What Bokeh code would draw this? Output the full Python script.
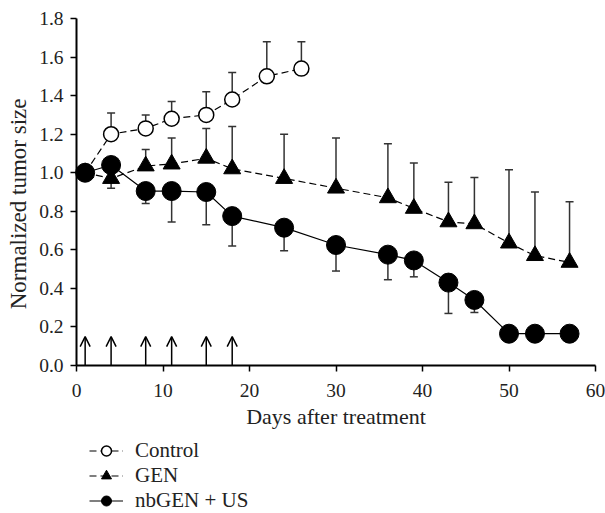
from bokeh.plotting import figure
from bokeh.models import (Range1d, ColumnDataSource, Whisker, TeeHead, Arrow, OpenHead,
                          Legend, LegendItem, FixedTicker, NumeralTickFormatter, Title)
from bokeh.embed import file_html
from bokeh.resources import INLINE

# ---- data ----
days_ctrl = [1, 4, 8, 11, 15, 18, 22, 26]
ctrl = [1.0, 1.20, 1.23, 1.28, 1.30, 1.38, 1.50, 1.54]
ctrl_hi = [1.0, 1.31, 1.30, 1.37, 1.42, 1.52, 1.68, 1.68]

days_gen = [1, 4, 8, 11, 15, 18, 24, 30, 36, 39, 43, 46, 50, 53, 57]
gen = [1.0, 0.97, 1.035, 1.045, 1.075, 1.02, 0.97, 0.92, 0.87, 0.815, 0.745, 0.735, 0.635, 0.57, 0.535]
gen_hi = [1.0, 0.97, 1.12, 1.18, 1.23, 1.24, 1.20, 1.18, 1.15, 1.05, 0.95, 0.975, 1.015, 0.90, 0.85]
gen_lo = [1.0, 0.92, 1.035, 1.045, 1.075, 1.02, 0.97, 0.92, 0.87, 0.815, 0.745, 0.735, 0.635, 0.57, 0.535]

days_nb = [1, 4, 8, 11, 15, 18, 24, 30, 36, 39, 43, 46, 50, 53, 57]
nb = [1.0, 1.04, 0.905, 0.905, 0.90, 0.775, 0.715, 0.625, 0.575, 0.545, 0.43, 0.34, 0.165, 0.165, 0.165]
nb_lo = [1.0, 1.04, 0.84, 0.745, 0.73, 0.62, 0.595, 0.49, 0.445, 0.46, 0.27, 0.275, 0.13, 0.14, 0.14]

treat_days = [1, 4, 8, 11, 15, 18]
arrow_top = 0.15

x_ticks = [0, 10, 20, 30, 40, 50, 60]
y_ticks = [0.0, 0.2, 0.4, 0.6, 0.8, 1.0, 1.2, 1.4, 1.6, 1.8]

FONT = "Liberation Serif"

# The frame is enlarged beyond the data area so that tick labels and the
# legend (drawn inside the frame) are not clipped; axes sit at x=0 / y=0.
PX_PER_DAY = 519 / 60
PX_PER_UNIT = 347 / 1.8
FRAME_LEFT = 34
x_lo = -(75 - FRAME_LEFT) / PX_PER_DAY
x_hi = 60 + 11 / PX_PER_DAY
y_lo = -148 / PX_PER_UNIT
y_hi = 1.8 + 18 / PX_PER_UNIT

p = figure(output_backend="svg", toolbar_location=None,
           frame_width=605 - FRAME_LEFT, frame_height=513,
           min_border_left=FRAME_LEFT, min_border_top=0, min_border_right=0, min_border_bottom=0,
           x_range=Range1d(x_lo, x_hi), y_range=Range1d(y_lo, y_hi))
p.outline_line_color = None
p.xgrid.visible = False
p.ygrid.visible = False
p.background_fill_color = "white"
p.border_fill_color = "white"

for ax in (p.xaxis[0], p.yaxis[0]):
    ax.axis_line_width = 2
    ax.axis_line_color = "black"
    ax.major_tick_line_width = 1.5
    ax.major_tick_line_color = "black"
    ax.major_tick_out = 6
    ax.major_tick_in = 0
    ax.minor_tick_line_color = None
    ax.major_label_text_font = FONT
    ax.major_label_text_font_size = "19.5px"
    ax.major_label_text_color = "#222222"
    ax.axis_label_text_font = FONT
    ax.axis_label_text_font_size = "22px"
    ax.axis_label_text_font_style = "normal"
    ax.axis_label_text_color = "#222222"

p.xaxis.fixed_location = 0
p.yaxis.fixed_location = 0
p.xaxis.bounds = (0, 60)
p.yaxis.bounds = (0, 1.8)
p.xaxis.ticker = FixedTicker(ticks=x_ticks)
p.yaxis.ticker = FixedTicker(ticks=y_ticks)
p.yaxis.formatter = NumeralTickFormatter(format="0.0")
p.xaxis.axis_label = "Days after treatment"
p.xaxis.major_label_standoff = 12
p.xaxis.axis_label_standoff = 4
p.yaxis.major_label_standoff = 7

ylab = Title(text="Normalized tumor size", align="right", offset=98, standoff=8,
             text_font=FONT, text_font_size="23px", text_font_style="normal",
             text_color="#222222", vertical_align="middle")
p.add_layout(ylab, "left")

# ---- error bars ----
def add_whisker(xs, lo, hi, upper_head, lower_head):
    sel = [i for i in range(len(xs)) if abs(hi[i] - lo[i]) > 1e-9]
    src = ColumnDataSource(dict(x=[xs[i] for i in sel], lo=[lo[i] for i in sel], hi=[hi[i] for i in sel]))
    w = Whisker(base="x", lower="lo", upper="hi", source=src, dimension="height",
                line_color="#333333", line_width=1.5,
                upper_head=upper_head, lower_head=lower_head, level="underlay")
    p.add_layout(w)

def tee():
    return TeeHead(size=8, line_color="#333333", line_width=1.5)

add_whisker(days_ctrl, ctrl, ctrl_hi, tee(), None)
add_whisker(days_gen, gen, gen_hi, tee(), None)
add_whisker(days_gen, gen_lo, gen, None, tee())
add_whisker(days_nb, nb_lo, nb, None, tee())

# ---- series ----
l_ctrl = p.line(days_ctrl, ctrl, line_color="black", line_width=1.2, line_dash="7 4")
s_ctrl = p.scatter(days_ctrl, ctrl, marker="circle", size=15, fill_color="white",
                   line_color="black", line_width=1.5)
l_gen = p.line(days_gen, gen, line_color="black", line_width=1.2, line_dash="7 4")
s_gen = p.scatter(days_gen, gen, marker="triangle", size=17, fill_color="black",
                  line_color="black")
l_nb = p.line(days_nb, nb, line_color="black", line_width=1.2)
s_nb = p.scatter(days_nb, nb, marker="circle", size=19, fill_color="black",
                 line_color="black")

# ---- treatment arrows ----
for d in treat_days:
    p.add_layout(Arrow(x_start=d, y_start=0, x_end=d, y_end=arrow_top,
                       line_color="black", line_width=1.5,
                       end=OpenHead(size=10, line_color="black", line_width=1.5)))

legend = Legend(items=[
    LegendItem(label="Control", renderers=[l_ctrl, s_ctrl]),
    LegendItem(label="GEN", renderers=[l_gen, s_gen]),
    LegendItem(label="nbGEN + US", renderers=[l_nb, s_nb]),
], location=(75 - FRAME_LEFT + 13, 0), orientation="vertical",
   glyph_width=34, glyph_height=25, label_height=25, spacing=0, padding=0, margin=0,
   label_standoff=12, border_line_color=None, background_fill_alpha=0)
legend.label_text_font = FONT
legend.label_text_font_size = "21px"
legend.label_text_font_style = "normal"
legend.label_text_color = "#222222"
p.add_layout(legend, "center")

open("out.html", "w").write(file_html(p, INLINE))
